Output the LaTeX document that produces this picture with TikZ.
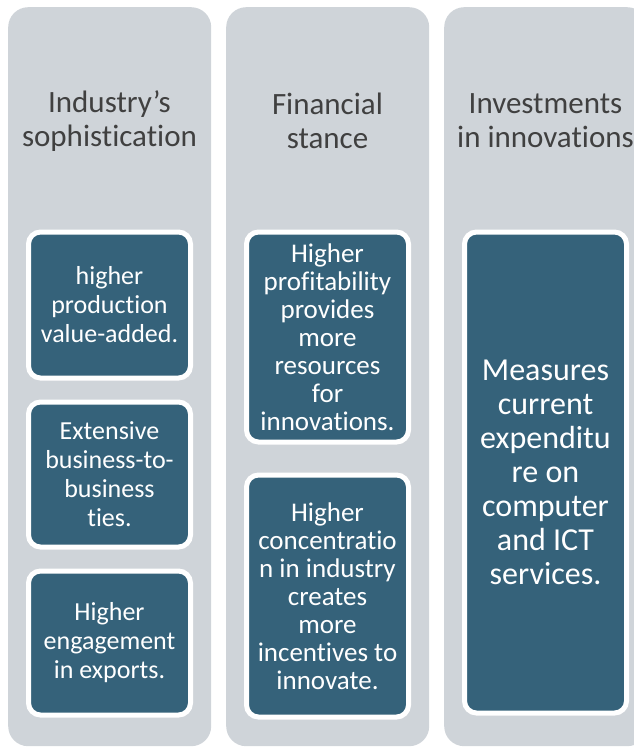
\documentclass[tikz,border=0pt]{standalone}
\usepackage{fontspec}
\setmainfont{Carlito}[Ligatures={NoCommon}]
\definecolor{panel}{HTML}{CFD4D9}
\definecolor{tilefill}{HTML}{35627A}
\definecolor{headtext}{HTML}{404040}
\begin{document}
\begin{tikzpicture}[x=1pt,y=-1pt,
  column/.style={fill=panel, rounded corners=20pt, minimum width=203pt,
    minimum height=739pt, anchor=north west, inner sep=0pt},
  header/.style={text=headtext, align=center, font=\fontsize{31}{34}\selectfont},
  tile/.style={draw=white, line width=5pt, fill=tilefill, rounded corners=12pt,
    text=white, align=center, minimum width=162pt, inner sep=0pt, anchor=north},
  small/.style={font=\fontsize{26}{29}\selectfont},
  medium/.style={font=\fontsize{27}{28}\selectfont},
  large/.style={font=\fontsize{32}{34}\selectfont}]
\useasboundingbox (0,0) rectangle (634,747);
\clip (0,0) rectangle (634,747);

% three grey panels
\node[column] (colA) at (8,7) {};
\node[column] (colB) at (226,7) {};
\node[column] (colC) at (444,7) {};

% panel titles
\node[header] (headA) at (109.5,121) {Industry’s\\sophistication};
\node[header] (headB) at (327.5,121) {Financial\\stance};
\node[header] (headC) at (545.5,121) {Investments\\in innovations};

% first panel
\node[tile, small, minimum height=146pt] (a1) at (109.5,229.5)
  {higher\\production\\value-added.};
\node[tile, small, minimum height=145pt] (a2) at (109.5,399.5)
  {Extensive\\business-to-\\business\\ties.};
\node[tile, small, minimum height=144pt] (a3) at (109.5,568.5)
  {Higher\\engagement\\in exports.};

% second panel
\node[tile, medium, minimum height=210pt] (b1) at (327.5,229.5)
  {Higher\\profitability\\provides\\more\\resources\\for\\innovations.};
\node[tile, medium, minimum height=242pt] (b2) at (327.5,472.5)
  {Higher\\concentratio\\n in industry\\creates\\more\\incentives to\\innovate.};

% third panel
\node[tile, large, minimum height=481pt] (c1) at (545.5,229.5)
  {Measures\\current\\expenditu\\re on\\computer\\and ICT\\services.};
\end{tikzpicture}
\end{document}
